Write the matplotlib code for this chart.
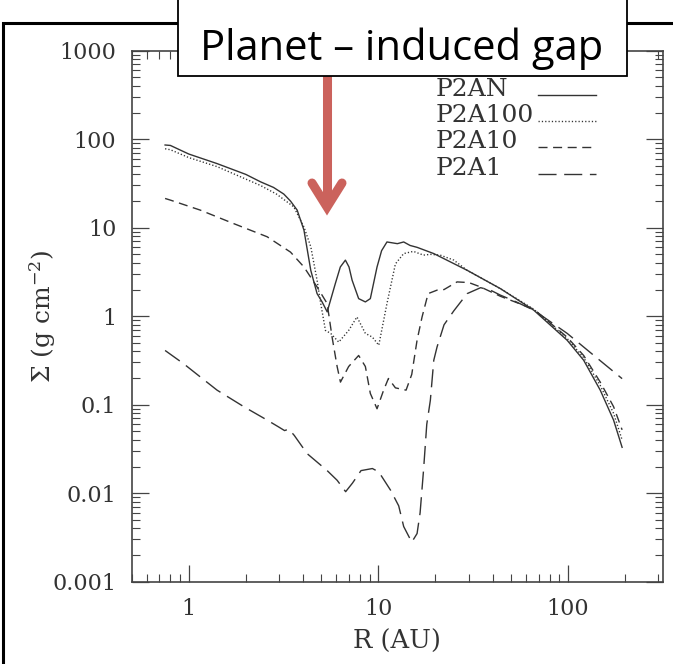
import matplotlib
matplotlib.use("Agg")
import matplotlib.pyplot as plt
from matplotlib.lines import Line2D
from matplotlib.patches import Rectangle
from matplotlib.ticker import FixedLocator, LogLocator, NullFormatter

plt.rcParams["font.family"] = "DejaVu Serif"
plt.rcParams["mathtext.fontset"] = "dejavuserif"
plt.rcParams["lines.scale_dashes"] = False

W, H = 673, 664

# surface density Sigma (g cm^-2) against radius R (AU)
r_an = [0.75, 0.8, 1.0, 1.41, 2.0, 2.39, 2.8, 3.17, 3.44, 3.73, 4.05, 4.4, 4.75, 5.05,
        5.37, 5.93, 6.3, 6.7, 7.0, 7.27, 7.87, 8.54, 9.07, 9.84, 10.4, 11.1, 12.6,
        13.6, 14.7, 16.0, 19.6, 29.4, 44, 66, 99, 121, 148, 174, 193]
sig_an = [86, 85, 68, 53, 40, 33, 28.5, 24, 20, 15.8, 9.4, 3.3, 1.8, 1.45,
          1.12, 2.34, 3.6, 4.3, 3.6, 2.55, 1.58, 1.45, 1.58, 3.6, 5.5, 6.9, 6.6,
          6.9, 6.3, 6.0, 5.1, 3.3, 2.05, 1.17, 0.535, 0.318, 0.146, 0.067, 0.033]

r_a100 = [0.75, 0.8, 1.0, 1.41, 2.39, 2.9, 3.58, 4.05, 4.4, 4.75, 4.93, 5.26, 5.6, 6.18,
          6.97, 7.71, 8.54, 9.3, 10.05, 11.1, 12.3, 13.6, 15.3, 17.3, 18.8, 21.2,
          25, 29.4, 44, 66, 99, 121, 148, 174, 193]
sig_a100 = [78, 76, 62, 49, 30, 24, 17.2, 10.2, 6.1, 2.55, 1.52, 0.69, 0.64, 0.51,
            0.69, 0.98, 0.64, 0.58, 0.47, 1.39, 3.9, 5.1, 5.4, 4.9, 5.0, 4.9,
            4.3, 3.3, 2.05, 1.2, 0.56, 0.34, 0.165, 0.08, 0.040]

r_a10 = [0.75, 0.8, 1.15, 1.73, 2.59, 3.44, 4.05, 4.75, 5.37, 5.7, 6.06, 6.31, 6.97,
         7.87, 8.54, 9.07, 9.84, 10.66, 11.3, 12.3, 14.0, 15.0, 16.0, 17.0, 18.3,
         20.4, 22.2, 26, 30, 34.6, 44, 66, 99, 121, 148, 174, 193]
sig_a10 = [21.4, 20.5, 15.8, 11.1, 7.9, 5.3, 3.6, 2.14, 1.39, 0.58, 0.27, 0.18, 0.27,
           0.36, 0.27, 0.134, 0.090, 0.146, 0.198, 0.155, 0.146, 0.22, 0.535, 0.98, 1.8,
           1.97, 2.0, 2.44, 2.4, 2.14, 1.68, 1.2, 0.58, 0.36, 0.18, 0.095, 0.052]

r_a1 = [0.75, 0.94, 1.15, 1.41, 1.95, 2.59, 2.98, 3.2, 3.37, 3.6, 4.21, 5.37, 6.06,
        6.72, 7.3, 8.1, 9.3, 10.05, 11.6, 12.8, 13.6, 15.0, 16.0, 16.6, 17.3, 18.0,
        18.8, 19.6, 20.4, 22.2, 25, 29.4, 34.6, 39, 44, 51.6, 66, 99, 137, 193]
sig_a1 = [0.41, 0.29, 0.206, 0.146, 0.095, 0.067, 0.056, 0.051, 0.053, 0.045, 0.028,
          0.018, 0.014, 0.0104, 0.013, 0.018, 0.019, 0.0174, 0.0108, 0.0072, 0.0042,
          0.0028, 0.0035, 0.006, 0.018, 0.06, 0.112, 0.318, 0.45, 0.8, 1.15, 1.8, 2.1,
          1.97, 1.73, 1.5, 1.17, 0.64, 0.36, 0.197]

names = ["P2AN", "P2A100", "P2A10", "P2A1"]
x_ticks = [1, 10, 100]
x_tick_labels = ["1", "10", "100"]
y_ticks = [0.001, 0.01, 0.1, 1, 10, 100, 1000]
y_tick_labels = ["0.001", "0.01", "0.1", "1", "10", "100", "1000"]

series = [(r_an, sig_an), (r_a100, sig_a100), (r_a10, sig_a10), (r_a1, sig_a1)]
styles = ["-", (0, (0.9, 1.5)), (0, (6.5, 4)), (0, (13, 5.5))]
ink = "#333333"


def fx(x):
    return x / W


def fy(y):
    return 1 - y / H


fig = plt.figure(figsize=(W / 100, H / 100), dpi=100)
ax = fig.add_axes([fx(131.7), fy(581.7), 531 / W, 531 / H])

for (r, s), ls in zip(series, styles):
    ax.plot(r, s, color=ink, lw=1.0, linestyle=ls)

ax.set_xscale("log")
ax.set_yscale("log")
ax.set_xlim(0.5, 316)
ax.set_ylim(0.001, 1000)

ax.xaxis.set_major_locator(FixedLocator(x_ticks))
ax.set_xticklabels(x_tick_labels)
ax.yaxis.set_major_locator(FixedLocator(y_ticks))
ax.set_yticklabels(y_tick_labels)
for axis in (ax.xaxis, ax.yaxis):
    axis.set_minor_locator(LogLocator(base=10, subs=range(2, 10), numticks=20))
    axis.set_minor_formatter(NullFormatter())

ax.tick_params(which="major", direction="in", length=12, width=0.9, top=True,
               right=True, labelsize=16, colors="#444444", labelcolor="#333333")
ax.tick_params(axis="y", which="major", pad=11)
ax.tick_params(axis="x", which="major", pad=12)
ax.tick_params(which="minor", direction="in", length=6, width=0.8, top=True,
               right=True, colors="#444444")
for sp in ax.spines.values():
    sp.set_color("#444444")
    sp.set_linewidth(1.2)

ax.set_xlabel("R (AU)", fontsize=18.5, color="#333333")
ax.xaxis.set_label_coords(0.5, (581.7 - 629) / 531)
ax.set_ylabel(r"$\Sigma$ (g cm$^{-2}$)", fontsize=18, color="#333333")
ax.yaxis.set_label_coords((58 - 131.7) / 531, 0.5)

# legend: names on the left, line samples on the right
for i, (name, ls) in enumerate(zip(names, styles)):
    base = [96, 122, 148.5, 175][i]
    fig.text(fx(436), fy(base), name, fontsize=18, color="#333333", va="baseline")
    fig.add_artist(Line2D([fx(538), fx(596)], [fy(base - 1.5)] * 2, color=ink,
                          lw=1.0, linestyle=ls, transform=fig.transFigure))

# outer frame
fig.add_artist(Rectangle((fx(3), -0.2), 2, fy(23) + 0.2, fill=False, ec="black",
                         lw=2.2, transform=fig.transFigure, zorder=5))

# arrow pointing at the gap
red = "#CB625C"
fig.add_artist(Line2D([fx(327), fx(327)], [fy(70), fy(206)], color=red, lw=6.5,
                      solid_capstyle="butt", transform=fig.transFigure, zorder=6))
fig.add_artist(Line2D([fx(312), fx(327), fx(342)], [fy(183), fy(207), fy(183)],
                      color=red, lw=6.5, solid_capstyle="round",
                      solid_joinstyle="miter", transform=fig.transFigure, zorder=6))

# title box
fig.add_artist(Rectangle((fx(178), fy(76)), 449 / W, 0.3, fc="white", ec="black",
                         lw=1.3, transform=fig.transFigure, zorder=7))
fig.text(fx(402), fy(60), "Planet \u2013 induced gap", fontsize=30, family="Open Sans",
         ha="center", va="baseline", color="black", zorder=8)

fig.savefig("out.png", dpi=100)
